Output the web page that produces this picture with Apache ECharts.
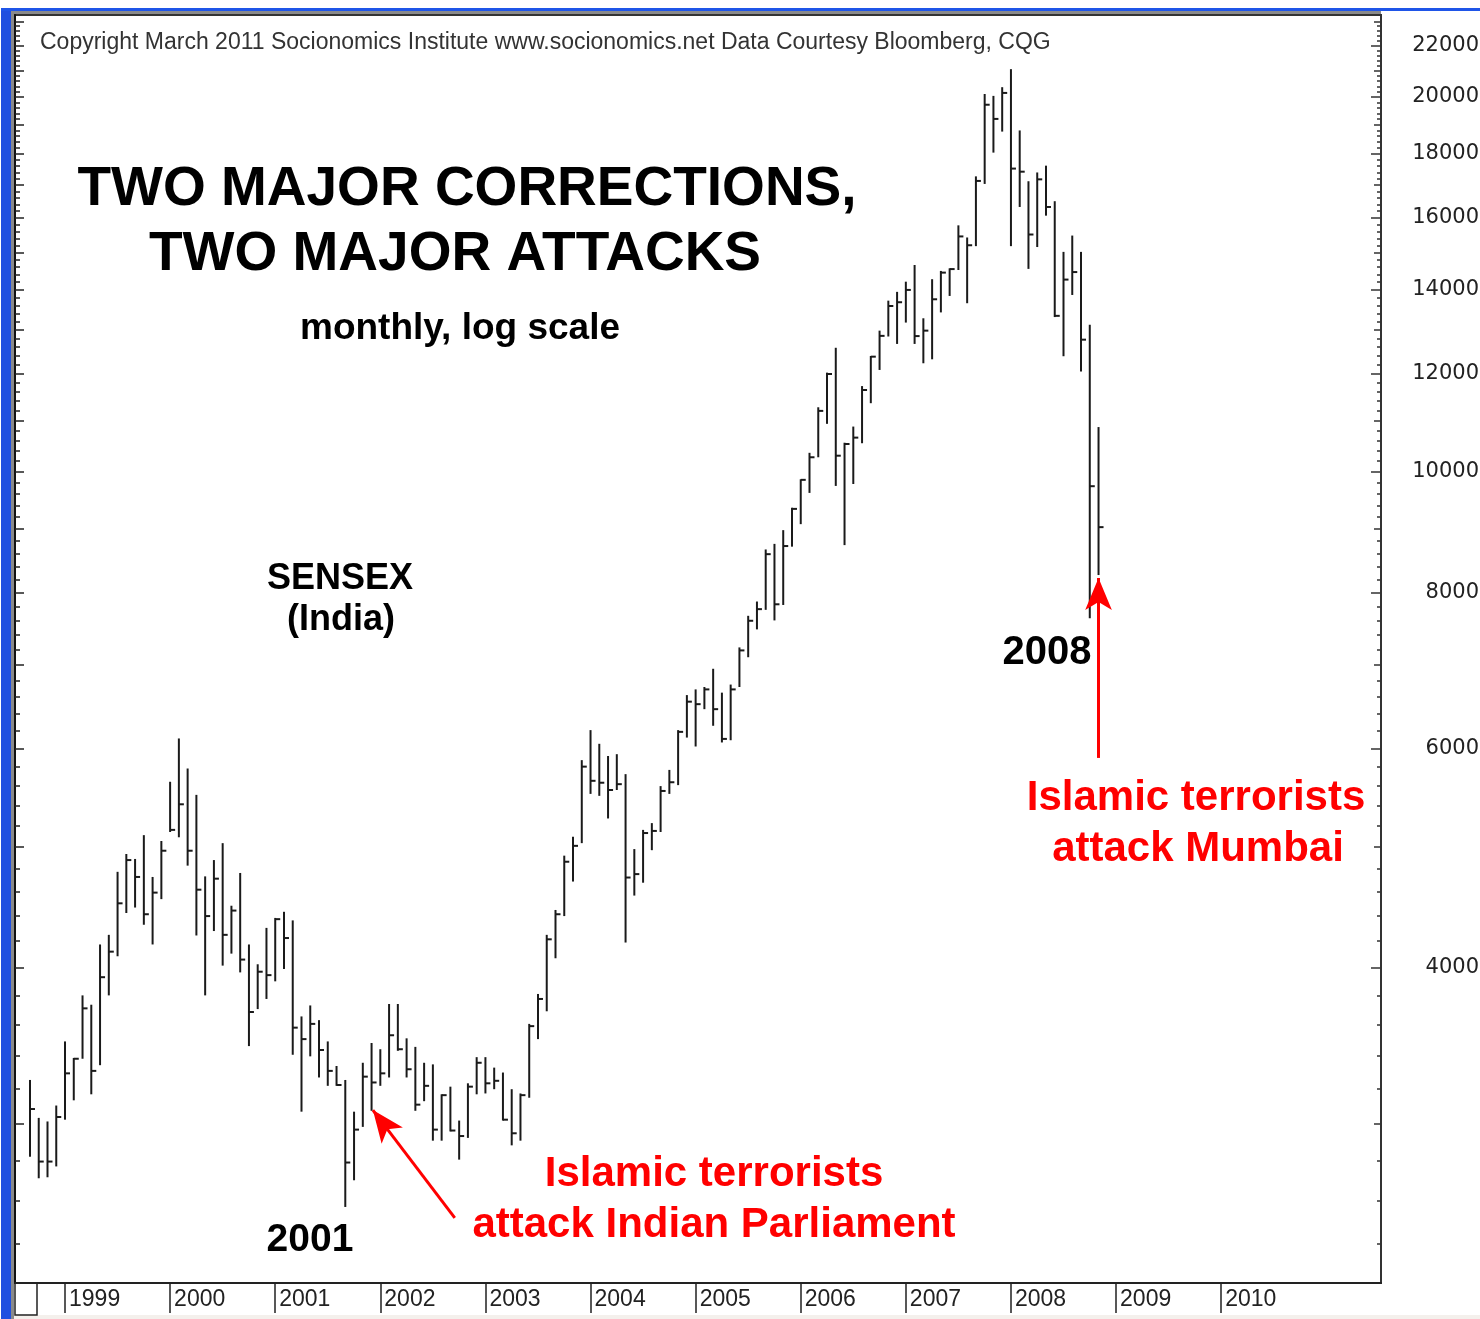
<!DOCTYPE html>
<html>
<head>
<meta charset="utf-8">
<title>SENSEX monthly, log scale</title>
<script src="https://cdn.jsdelivr.net/npm/echarts@6/dist/echarts.min.js"></script>
<style>
  html, body { margin: 0; padding: 0; background: #fff; }
  #chart { width: 1480px; height: 1319px; }
</style>
</head>
<body>
<div id="chart"></div>
<script>
// monthly bars, first bar = Sep 1998, last = Nov 2008
var firstMonth = '1998-09';

var highs = [
  3250, 3030, 3010, 3100,
  3490, 3385, 3800, 3735, 4175, 4250, 4775, 4935, 4890, 5110, 4730, 5055,
  5640, 6110, 5780, 5505, 4735, 4880, 5035, 4485, 4765, 4175, 4025, 4305,
  4385, 4435, 4365, 3655, 3730, 3630, 3490, 3335, 3250, 3065, 3355, 3480,
  3440, 3740, 3740, 3510, 3455, 3355, 3345, 3165, 3210, 3015, 3230, 3390,
  3390, 3325, 3295, 3195, 3170, 3605, 3810, 4250, 4450, 4920, 5095, 5870,
  6205, 6050, 5915, 5935, 5720, 4980, 5160, 5225, 5595, 5765, 6205, 6620,
  6690, 6720, 6950, 6650, 6750, 7230, 7665, 7870, 8665, 8755, 8980, 9360,
  9865, 10360, 11270, 12015, 12580, 10555, 10875, 11720, 12390, 12985, 13725, 13950,
  14215, 14660, 13285, 14280, 14500, 14570, 15775, 15425, 17270, 20110, 20040, 20365,
  21055, 18800, 17115, 17395, 17615, 16495, 15020, 15480, 15020, 13125, 10865
];
var lows = [
  2820, 2710, 2715, 2770,
  3020, 3130, 3380, 3165, 3340, 3800, 4085, 4425, 4470, 4330, 4175, 4540,
  5140, 5090, 4830, 4245, 3800, 4280, 4015, 4105, 3965, 3460, 3705, 3775,
  3900, 3990, 3405, 3065, 3395, 3265, 3215, 3215, 2570, 2700, 2980, 3070,
  3215, 3265, 3430, 3265, 3070, 3125, 2905, 2905, 2955, 2805, 2920, 3165,
  3170, 3195, 3015, 2880, 2905, 3145, 3505, 3690, 4070, 4400, 4690, 5035,
  5515, 5495, 5270, 5555, 4190, 4570, 4680, 4970, 5140, 5515, 5605, 6120,
  6020, 6450, 6255, 6065, 6090, 6720, 7100, 7475, 7750, 7600, 7820, 8710,
  9080, 9620, 10275, 10930, 9745, 8735, 9780, 10545, 11355, 12075, 12845, 12670,
  13180, 12670, 12225, 12315, 13430, 13845, 14525, 13660, 15180, 17030, 18045, 18760,
  15180, 16320, 14555, 15155, 16060, 13315, 12385, 13870, 12040, 7630, 8265
];
var closes = [
  3080, 2795, 2795, 3035,
  3290, 3380, 3710, 3305, 3930, 4120, 4505, 4880, 4730, 4415, 4595, 4965,
  5160, 5410, 4965, 4620, 4400, 4715, 4250, 4445, 4060, 3685, 3970, 3945,
  4375, 4225, 3580, 3505, 3605, 3435, 3305, 3220, 2790, 2965, 3270, 3235,
  3290, 3530, 3440, 3315, 3105, 3215, 2965, 3160, 2960, 2930, 3210, 3355,
  3230, 3245, 3020, 2945, 3160, 3590, 3775, 4215, 4415, 4865, 5010, 5800,
  5650, 5630, 5555, 5615, 4725, 4755, 5130, 5150, 5545, 5635, 6185, 6540,
  6510, 6690, 6450, 6105, 6690, 7190, 7595, 7760, 8590, 7830, 8720, 9340,
  9855, 10275, 11195, 11985, 10305, 10530, 10655, 11635, 12375, 12860, 13590, 13685,
  14000, 12855, 12985, 13760, 14455, 14550, 15455, 15205, 17125, 19715, 19205, 20150,
  17520, 17420, 15510, 17175, 16320, 13345, 14270, 14470, 12770, 9740, 9030
];

var years = [1999, 2000, 2001, 2002, 2003, 2004, 2005, 2006, 2007, 2008, 2009, 2010];
var yLabels = [4000, 6000, 8000, 10000, 12000, 14000, 16000, 18000, 20000, 22000];

// arrows: [start, tip] in [month index, index level]
var arrowParliament = [[48.5, 2519], [39.15, 3074]];
var arrowMumbai = [[122, 5894], [122, 8220]];

var yMin = 2233, yMax = 23272;
var startIdx = 12 - 9 + 1; // Jan 1999 is the 5th bar
var yearIdx = years.map(function (y) { return (y - 1999) * 12 + startIdx; });

var ticks200 = [], ticks1000 = [], ticksOdd = [];
for (var v = 2400; v <= 23000; v += 200) ticks200.push(v);
for (var k = 3000; k <= 23000; k += 1000) {
  ticks1000.push(k);
  if ((k / 1000) % 2 === 1) ticksOdd.push(k);
}

var bars = highs.map(function (h, i) { return [i, h, lows[i], closes[i]]; });

var ink = '#1a1a1a';
var red = '#ff0000';
var sans = '"Liberation Sans", Arial, sans-serif';

function logAxis(pos, opts) {
  var ax = {
    type: 'log', logBase: 10, min: yMin, max: yMax, position: pos,
    splitLine: { show: false },
    axisLine: { show: false, onZero: false },
    axisTick: { show: false },
    axisLabel: { show: false }
  };
  for (var key in opts) ax[key] = opts[key];
  return ax;
}

function txt(text, x, y, size, color, weight) {
  return {
    type: 'text', x: x, y: y, silent: true,
    style: {
      text: text, fill: color || '#000',
      font: (weight || 'bold') + ' ' + size + 'px ' + sans,
      align: 'center', verticalAlign: 'middle'
    }
  };
}

var chart = echarts.init(document.getElementById('chart'));

var option = {
  backgroundColor: '#fff',
  animation: false,
  grid: {
    left: 15, right: 99, top: 15, bottom: 36,
    containLabel: false,
    outerBoundsMode: 'none',
    show: true, borderColor: '#333', borderWidth: 2, backgroundColor: '#fff'
  },
  xAxis: {
    type: 'value', min: -1.71, max: 154.25,
    splitLine: { show: false },
    axisLine: { onZero: false, lineStyle: { color: '#222', width: 2 } },
    axisTick: {
      customValues: yearIdx, inside: false, length: 30,
      lineStyle: { color: '#222', width: 1.5 }
    },
    axisLabel: {
      customValues: yearIdx, align: 'left', margin: 5, padding: [0, 0, 0, 4],
      fontFamily: sans, fontSize: 23, color: '#222',
      formatter: function (val) { return String(1999 + Math.round((val - startIdx) / 12)); }
    }
  },
  yAxis: [
    // right side: labels + long ticks
    logAxis('right', {
      axisLine: { show: true, onZero: false, lineStyle: { color: '#333', width: 2 } },
      axisTick: { show: true, inside: true, length: 10, customValues: yLabels, lineStyle: { color: '#333', width: 1.5 } },
      axisLabel: {
        show: true, customValues: yLabels, align: 'right', margin: 98,
        fontFamily: '"DejaVu Sans", sans-serif', fontSize: 21, color: '#222',
        formatter: function (val) { return String(Math.round(val)); }
      }
    }),
    logAxis('right', {
      axisTick: { show: true, inside: true, length: 7, customValues: ticksOdd, lineStyle: { color: '#333', width: 1.5 } }
    }),
    logAxis('right', {
      axisTick: { show: true, inside: true, length: 4, customValues: ticks200, lineStyle: { color: '#333', width: 1.5 } }
    }),
    // left side
    logAxis('left', {
      axisLine: { show: true, onZero: false, lineStyle: { color: '#111', width: 2 } },
      axisTick: { show: true, inside: true, length: 9, customValues: ticks1000, lineStyle: { color: '#222', width: 1.5 } }
    }),
    logAxis('left', {
      axisTick: { show: true, inside: true, length: 5, customValues: ticks200, lineStyle: { color: '#222', width: 1.5 } }
    })
  ],
  series: [
    {
      name: 'SENSEX',
      type: 'custom',
      xAxisIndex: 0,
      yAxisIndex: 0,
      clip: true,
      encode: { x: 0, y: [1, 2, 3] },
      data: bars,
      renderItem: function (params, api) {
        var i = api.value(0);
        var hi = api.coord([i, api.value(1)]);
        var lo = api.coord([i, api.value(2)]);
        var cl = api.coord([i, api.value(3)]);
        return {
          type: 'group',
          children: [
            { type: 'line', shape: { x1: hi[0], y1: hi[1], x2: lo[0], y2: lo[1] }, style: { stroke: ink, lineWidth: 2 } },
            { type: 'line', shape: { x1: cl[0], y1: cl[1], x2: cl[0] + 5, y2: cl[1] }, style: { stroke: ink, lineWidth: 2 } }
          ]
        };
      },
      markLine: {
        silent: true,
        symbol: ['none', 'arrow'],
        symbolSize: [20, 32],
        label: { show: false },
        lineStyle: { color: red, width: 3, type: 'solid' },
        data: [
          [{ coord: arrowParliament[0] }, { coord: arrowParliament[1] }],
          [{ coord: arrowMumbai[0] }, { coord: arrowMumbai[1] }]
        ]
      }
    }
  ],
  graphic: [
    // window frame bits
    { type: 'rect', shape: { x: 1, y: 8, width: 10, height: 1311 }, style: { fill: '#1f4fe0' }, silent: true },
    { type: 'rect', shape: { x: 1, y: 8, width: 1479, height: 3 }, style: { fill: '#1f55e8' }, silent: true },
    { type: 'rect', shape: { x: 11, y: 11, width: 3, height: 1308 }, style: { fill: '#8a8a8a' }, silent: true },
    { type: 'rect', shape: { x: 11, y: 11, width: 1370, height: 3 }, style: { fill: '#8a8a8a' }, silent: true },
    { type: 'rect', shape: { x: 14, y: 1315, width: 1466, height: 4 }, style: { fill: '#f4f0ec' }, silent: true },
    { type: 'rect', shape: { x: 15, y: 1283, width: 22, height: 32 }, style: { fill: '#fff', stroke: '#222', lineWidth: 1.5 }, silent: true },
    {
      type: 'text', x: 40, y: 43, silent: true,
      style: {
        text: 'Copyright March 2011 Socionomics Institute www.socionomics.net Data Courtesy Bloomberg, CQG',
        font: 'normal 23px ' + sans, fill: '#333', align: 'left', verticalAlign: 'middle'
      }
    },
    txt('TWO MAJOR CORRECTIONS,', 467, 190, 55),
    txt('TWO MAJOR ATTACKS', 455, 255, 55),
    txt('monthly, log scale', 460, 329, 37),
    txt('SENSEX', 340, 579, 36),
    txt('(India)', 341, 620, 36),
    txt('2001', 310, 1240, 39),
    txt('2008', 1047, 653, 40),
    txt('Islamic terrorists', 714, 1174, 42, red),
    txt('attack Indian Parliament', 714, 1225, 42, red),
    txt('Islamic terrorists', 1196, 798, 42, red),
    txt('attack Mumbai', 1198, 849, 42, red)
  ]
};

chart.setOption(option);
</script>
</body>
</html>
